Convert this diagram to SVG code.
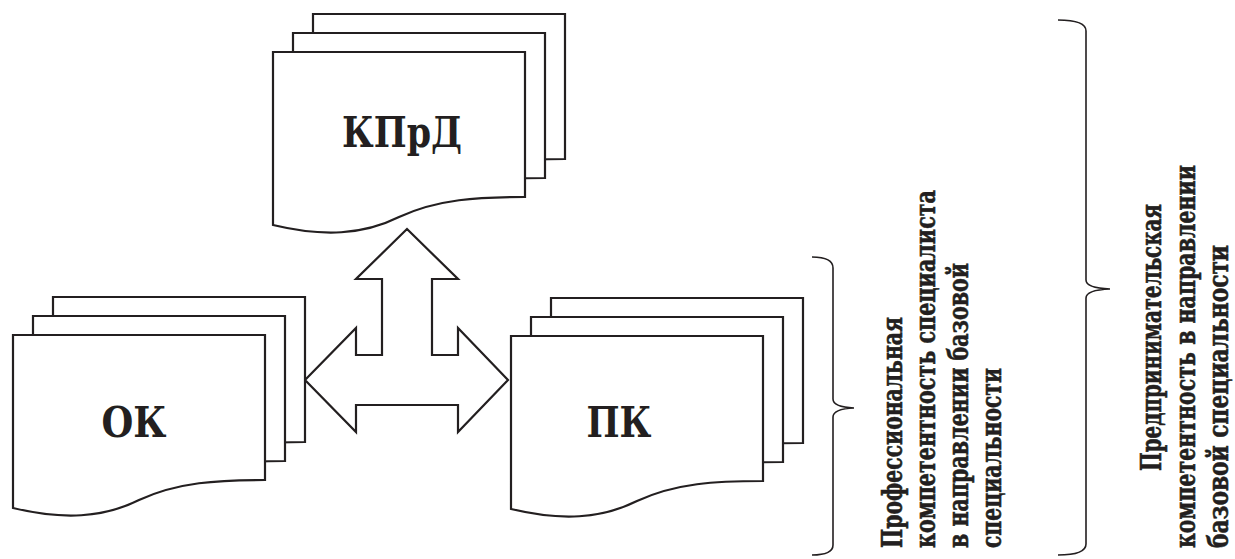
<svg xmlns="http://www.w3.org/2000/svg" width="1235" height="559" viewBox="0 0 1235 559">
  <style>
    .doc { fill: #ffffff; stroke: #231f20; stroke-width: 2.2; stroke-linejoin: miter; }
    .arrow { fill: #ffffff; stroke: #231f20; stroke-width: 2.2; stroke-linejoin: miter; }
    .brace { fill: none; stroke: #231f20; stroke-width: 1.6; }
    .label { font-family: "DejaVu Serif", serif; font-weight: bold; font-size: 43px; fill: #231f20; text-anchor: middle; }
    .note { font-family: "DejaVu Serif", serif; font-weight: bold; font-size: 27px; fill: #231f20; stroke: #231f20; stroke-width: 0.6; }
  </style>
  <defs>
    <!-- single document sheet with wavy lower edge, origin at top-left -->
    <path id="sheet" d="M0,0 H252 V145 C205,145 165,147 126,165 C90,183 50,185 0,173 Z"/>
  </defs>

  <rect width="1235" height="559" fill="#ffffff"/>

  <!-- central three-way arrow -->
  <g id="connectors">
    <polygon class="arrow" points="407,229 458,279 432,279 432,355 458,355 458,328 508,380 458,432 458,405 356,405 356,432 305,380 356,328 356,355 382,355 382,279 356,279"/>
  </g>

  <g id="node-kprd">
    <use href="#sheet" class="doc" x="313" y="14"/>
    <use href="#sheet" class="doc" x="293" y="33"/>
    <use href="#sheet" class="doc" x="273" y="52"/>
    <text class="label" x="402" y="147" textLength="120" lengthAdjust="spacingAndGlyphs">КПрД</text>
  </g>

  <g id="node-ok">
    <use href="#sheet" class="doc" x="53" y="297"/>
    <use href="#sheet" class="doc" x="33" y="316"/>
    <use href="#sheet" class="doc" x="13" y="335"/>
    <text class="label" x="134" y="437" textLength="65" lengthAdjust="spacingAndGlyphs">ОК</text>
  </g>

  <g id="node-pk">
    <use href="#sheet" class="doc" x="551" y="298"/>
    <use href="#sheet" class="doc" x="531" y="317"/>
    <use href="#sheet" class="doc" x="511" y="336"/>
    <text class="label" x="619" y="437" textLength="65" lengthAdjust="spacingAndGlyphs">ПК</text>
  </g>

  <!-- brace and caption: professional competence -->
  <g id="group-professional">
    <path class="brace" d="M812,257 Q833,257 833,268 L833,399 Q833,407 854,408 Q833,409 833,417 L833,545 Q833,555 812,555"/>
    <text class="note" transform="translate(902,548) rotate(-90)" textLength="231" lengthAdjust="spacingAndGlyphs">Профессиональная</text>
    <text class="note" transform="translate(935,548) rotate(-90)" textLength="358" lengthAdjust="spacingAndGlyphs">компетентность специалиста</text>
    <text class="note" transform="translate(968,548) rotate(-90)" textLength="285" lengthAdjust="spacingAndGlyphs">в направлении базовой</text>
    <text class="note" transform="translate(1001,548) rotate(-90)" textLength="180" lengthAdjust="spacingAndGlyphs">специальности</text>
  </g>

  <!-- brace and caption: entrepreneurial competence -->
  <g id="group-entrepreneurial">
    <path class="brace" d="M1058,20 Q1086,20 1086,31 L1086,280 Q1086,288 1110,289 Q1086,290 1086,298 L1086,544 Q1086,555 1058,555"/>
    <text class="note" transform="translate(1161,471) rotate(-90)" textLength="267" lengthAdjust="spacingAndGlyphs">Предпринимательская</text>
    <text class="note" transform="translate(1195,548) rotate(-90)" textLength="383" lengthAdjust="spacingAndGlyphs">компетентность в направлении</text>
    <text class="note" transform="translate(1228,548) rotate(-90)" textLength="303" lengthAdjust="spacingAndGlyphs">базовой специальности</text>
  </g>
</svg>
